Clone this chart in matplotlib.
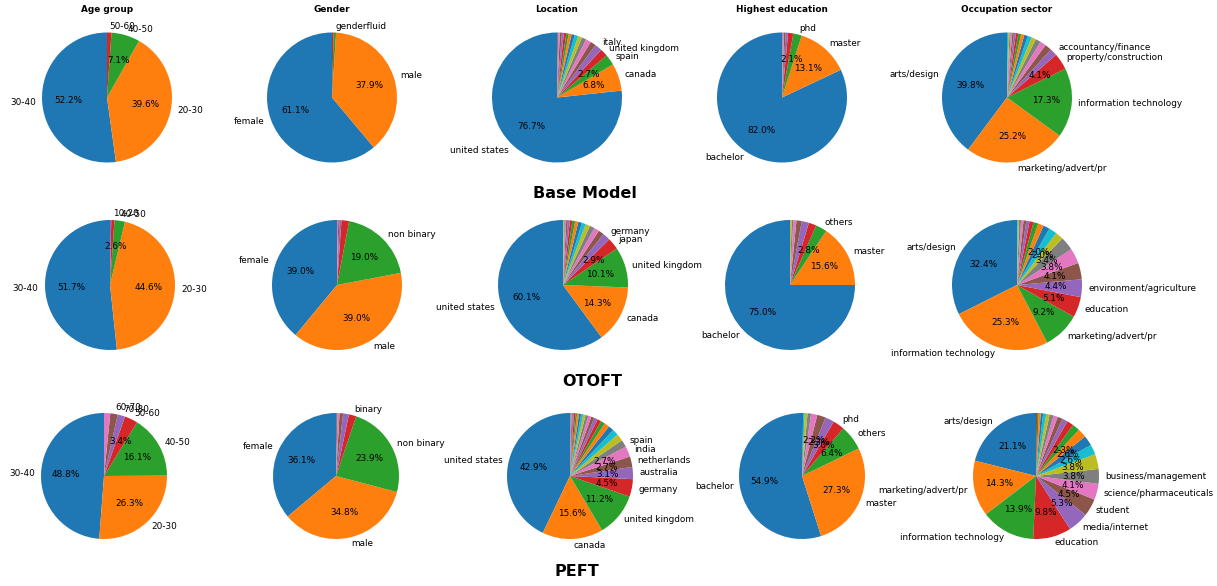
import matplotlib
matplotlib.use("Agg")
import matplotlib.pyplot as plt

# ---- Base Model ----
age_base_vals = [52.2, 39.6, 7.1, 1.1]
age_base_labels = ['30-40', '20-30', '40-50', '50-60']
gender_base_vals = [61.1, 37.9, 0.6, 0.4]
gender_base_labels = ['female', 'male', 'genderfluid', '']
loc_base_vals = [76.7, 6.8, 2.7, 1.9, 1.8, 1.4, 1.3, 1.1, 1.0, 0.9, 0.8, 0.7,
                 0.6, 0.6, 0.5, 0.5, 0.4, 0.3]
loc_base_labels = ['united states', 'canada', 'spain', 'united kingdom', 'italy']
edu_base_vals = [82.0, 13.1, 2.1, 1.3, 0.6, 0.4, 0.3, 0.2]
edu_base_labels = ['bachelor', 'master', 'phd']
occ_base_vals = [39.8, 25.2, 17.3, 4.1, 1.8, 1.7, 1.5, 1.3, 1.1, 1.0, 0.9, 0.8,
                 0.7, 0.6, 0.5, 0.4, 0.4, 0.3, 0.3, 0.3]
occ_base_labels = ['arts/design', 'marketing/advert/pr', 'information technology',
                   'property/construction', 'accountancy/finance']

# ---- OTOFT ----
age_otoft_vals = [51.7, 44.6, 2.6, 0.8, 0.3]
age_otoft_labels = ['30-40', '20-30', '40-50', '10-20', '']
gender_otoft_vals = [39.0, 39.0, 19.0, 1.9, 0.5, 0.3, 0.3]
gender_otoft_labels = ['female', 'male', 'non binary']
loc_otoft_vals = [60.1, 14.3, 10.1, 2.9, 1.9, 1.4, 1.3, 1.2, 1.1, 1.0, 0.9, 0.8,
                  0.7, 0.6, 0.5, 0.4, 0.3, 0.2, 0.2, 0.1]
loc_otoft_labels = ['united states', 'canada', 'united kingdom', 'japan', 'germany']
edu_otoft_vals = [75.0, 15.6, 2.8, 1.9, 1.8, 1.3, 0.8, 0.4, 0.4]
edu_otoft_labels = ['bachelor', 'master', 'others']
occ_otoft_vals = [32.4, 25.3, 9.2, 5.1, 4.4, 4.1, 3.8, 3.4, 2.0, 2.0, 1.6, 1.4,
                  1.2, 1.0, 0.8, 0.7, 0.6, 0.5, 0.3, 0.2]
occ_otoft_labels = ['arts/design', 'information technology', 'marketing/advert/pr',
                    'education', 'environment/agriculture']

# ---- PEFT ----
age_peft_vals = [48.8, 26.3, 16.1, 3.4, 1.9, 1.9, 1.6]
age_peft_labels = ['30-40', '20-30', '40-50', '50-60', '70-80', '60-70', '']
gender_peft_vals = [36.1, 34.8, 23.9, 1.9, 1.5, 0.9, 0.5, 0.4]
gender_peft_labels = ['female', 'male', 'non binary', 'binary']
loc_peft_vals = [42.9, 15.6, 11.2, 4.5, 3.1, 2.7, 2.7, 1.9, 1.8, 1.6, 1.4, 1.3,
                 1.1, 1.0, 0.9, 0.8, 0.8, 0.7, 0.6, 0.6, 0.5, 0.5, 0.4, 0.4,
                 0.3, 0.3, 0.2, 0.2]
loc_peft_labels = ['united states', 'canada', 'united kingdom', 'germany',
                   'australia', 'netherlands', 'india', 'spain']
edu_peft_vals = [54.9, 27.3, 6.4, 3.0, 2.3, 2.2, 1.6, 0.9, 0.7, 0.4, 0.3]
edu_peft_labels = ['bachelor', 'master', 'others', 'phd']
occ_peft_vals = [21.1, 14.3, 13.9, 9.8, 5.3, 4.5, 4.1, 3.8, 3.8, 2.6, 2.6, 2.3,
                 1.9, 1.7, 1.4, 1.3, 1.1, 1.0, 0.9, 0.8, 0.6, 0.5, 0.4, 0.3]
occ_peft_labels = ['arts/design', 'marketing/advert/pr', 'information technology',
                   'education', 'media/internet', 'student',
                   'science/pharmaceuticals', 'business/management']

col_titles = ['Age group', 'Gender', 'Location', 'Highest education', 'Occupation sector']
row_titles = ['Base Model', 'OTOFT', 'PEFT']

rows = [
    [(age_base_vals, age_base_labels), (gender_base_vals, gender_base_labels),
     (loc_base_vals, loc_base_labels), (edu_base_vals, edu_base_labels),
     (occ_base_vals, occ_base_labels)],
    [(age_otoft_vals, age_otoft_labels), (gender_otoft_vals, gender_otoft_labels),
     (loc_otoft_vals, loc_otoft_labels), (edu_otoft_vals, edu_otoft_labels),
     (occ_otoft_vals, occ_otoft_labels)],
    [(age_peft_vals, age_peft_labels), (gender_peft_vals, gender_peft_labels),
     (loc_peft_vals, loc_peft_labels), (edu_peft_vals, edu_peft_labels),
     (occ_peft_vals, occ_peft_labels)],
]

# layout in pixels
W, H = 1217, 586
row_cx = [[107, 332, 557, 782, 1007],
          [110, 337, 563, 790, 1017],
          [104, 336, 570, 802, 1036]]
row_cy = [97.5, 285, 476]
row_r = [65, 65, 63]
row_title_pos = [(585, 193), (592, 381), (577, 572)]

fig = plt.figure(figsize=(W / 100, H / 100), dpi=100)


def pct_fmt(p):
    return f'{p:.1f}%' if p >= 1.95 else ''


for i, row in enumerate(rows):
    for j, (vals, labels) in enumerate(row):
        cx, cy, r = row_cx[i][j], row_cy[i], row_r[i]
        size = r * 2.5
        ax = fig.add_axes([(cx - size / 2) / W, (H - cy - size / 2) / H,
                           size / W, size / H])
        labs = labels + [''] * (len(vals) - len(labels))
        ax.pie(vals, labels=labs, autopct=pct_fmt, startangle=90,
               textprops={'fontsize': 6.4})
        if i == 0:
            ax.set_title(col_titles[j], fontsize=6.4, fontweight='bold', pad=3)
    tx, ty = row_title_pos[i]
    fig.text(tx / W, 1 - ty / H, row_titles[i], fontsize=11.5, fontweight='bold',
             ha='center', va='center')

fig.savefig('out.png', dpi=100)
